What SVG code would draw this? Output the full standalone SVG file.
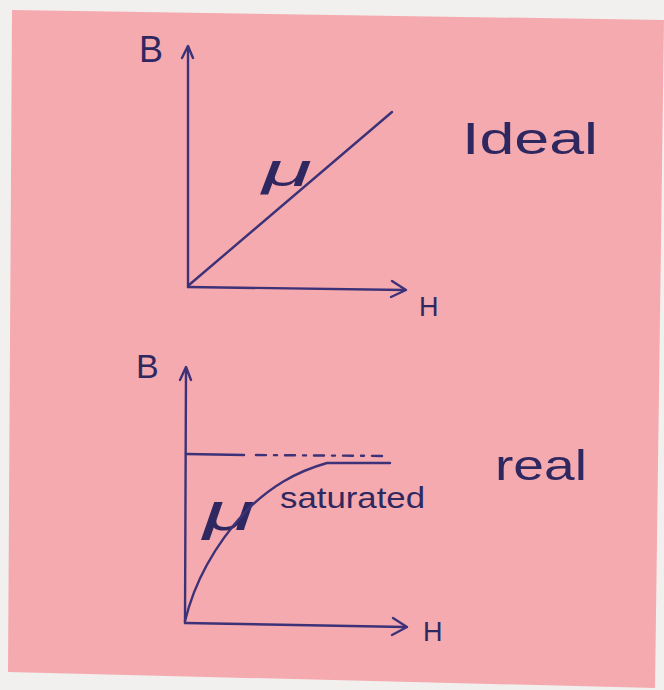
<svg xmlns="http://www.w3.org/2000/svg" width="664" height="690" viewBox="0 0 664 690">
<style>
.ink{stroke:#3d3278;stroke-width:2.4;fill:none;stroke-linecap:round;stroke-linejoin:round}
.lbl{font-family:"Liberation Sans","DejaVu Sans",sans-serif;fill:#2f2860}
</style>
<rect x="0" y="0" width="664" height="690" fill="#f2f0ee"/>
<g id="note">
<polygon points="12,10 664,20 655,688 8,672" fill="#f5aaaf"/>
</g>
<g id="ideal-chart">
<text class="lbl" x="139" y="62" font-size="36">B</text>
<text class="lbl" x="419" y="316" font-size="27">H</text>
<text class="lbl" x="262" y="186" font-size="46" font-style="italic" textLength="50" lengthAdjust="spacingAndGlyphs">μ</text>
<text class="lbl" x="462" y="154" font-size="44" textLength="136" lengthAdjust="spacingAndGlyphs">Ideal</text>
</g>
<g id="real-chart">
<text class="lbl" x="136" y="378" font-size="34">B</text>
<text class="lbl" x="423" y="641" font-size="27">H</text>
<text class="lbl" x="203" y="530" font-size="52" font-style="italic" textLength="52" lengthAdjust="spacingAndGlyphs">μ</text>
<text class="lbl" x="280" y="508" font-size="30" textLength="145" lengthAdjust="spacingAndGlyphs">saturated</text>
<text class="lbl" x="495" y="480" font-size="42" textLength="92" lengthAdjust="spacingAndGlyphs">real</text>
</g>
<g id="connectors">
<path class="ink" d="M188,287 L188,47"/>
<path class="ink" d="M182,58 L188,46 L193,58"/>
<path class="ink" d="M188,287 L404,290"/>
<path class="ink" d="M392,281 L406,290 L391,297"/>
<path class="ink" d="M189,285 L392,112"/>
<path class="ink" d="M185,623 L186,368"/>
<path class="ink" d="M180,380 L186,367 L191,380"/>
<path class="ink" d="M185,623 L405,627"/>
<path class="ink" d="M393,618 L407,627 L392,635"/>
<path class="ink" stroke-width="1.6" d="M186,454 L244,455"/>
<path class="ink" stroke-width="1.6" stroke-dasharray="10,8,3,8" d="M256,455 L388,456"/>
<path class="ink" d="M185,621 C195,580 215,545 245,512 C270,487 295,472 327,463 L390,463"/>
</g>
</svg>
